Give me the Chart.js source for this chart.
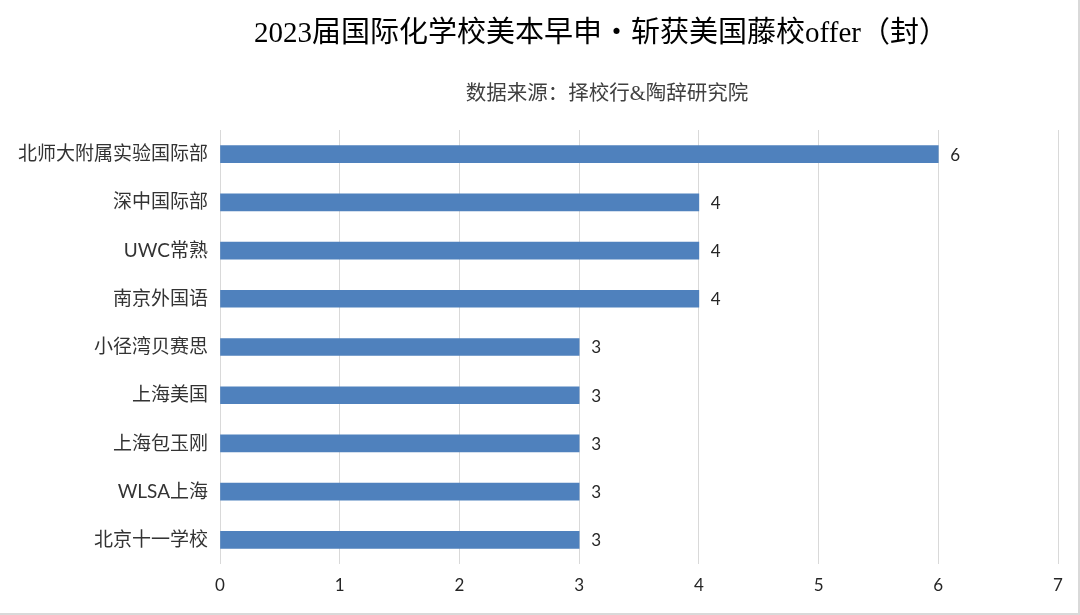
<!DOCTYPE html>
<html>
<head>
<meta charset="utf-8">
<script src="https://cdn.jsdelivr.net/npm/chart.js@4/dist/chart.umd.min.js"></script>
<style>
html,body{margin:0;padding:0;background:#fff;}
#wrap{width:1080px;height:615px;position:relative;box-sizing:border-box;border-right:2px solid #d9d9d9;border-bottom:2px solid #d9d9d9;}
canvas{display:block;}
</style>
</head>
<body>
<div id="wrap"><canvas id="c" width="1078" height="613"></canvas></div>
<script>
const categories = ["北师大附属实验国际部","深中国际部","UWC常熟","南京外国语","小径湾贝赛思","上海美国","上海包玉刚","WLSA上海","北京十一学校"];
const offers = [6,4,4,4,3,3,3,3,3];
const xTicks = [0,1,2,3,4,5,6,7];
const titleText = "2023届国际化学校美本早申・斩获美国藤校offer（封）";
const subtitleText = "数据来源：择校行&陶辞研究院";

const labelFont = "Lato, 'Noto Sans CJK SC', sans-serif";
const serifFont = "'Liberation Serif', 'Noto Sans CJK SC', serif";

const headings = {
  id: 'headings',
  afterDraw(chart) {
    const ctx = chart.ctx;
    ctx.save();
    ctx.textAlign = "center";
    ctx.textBaseline = "middle";
    ctx.fillStyle = "#000";
    ctx.font = "29px " + serifFont;
    ctx.fillText(titleText, 601, 34);
    ctx.fillStyle = "#404040";
    ctx.font = "20.5px " + serifFont;
    ctx.fillText(subtitleText, 607, 95);
    ctx.restore();
  }
};

const valueLabels = {
  id: 'valueLabels',
  afterDatasetsDraw(chart) {
    const ctx = chart.ctx;
    const meta = chart.getDatasetMeta(0);
    ctx.save();
    ctx.font = "17px " + labelFont;
    ctx.fillStyle = "#262626";
    ctx.textAlign = "left";
    ctx.textBaseline = "middle";
    meta.data.forEach((bar, i) => {
      ctx.fillText(String(offers[i]), bar.x + 12, bar.y + 1);
    });
    ctx.restore();
  }
};

new Chart(document.getElementById('c'), {
  type: 'bar',
  data: {
    labels: categories,
    datasets: [{
      data: offers,
      backgroundColor: '#4f81bd',
      borderWidth: 0,
      barThickness: 17
    }]
  },
  options: {
    indexAxis: 'y',
    responsive: false,
    animation: false,
    layout: { padding: { left: 0, right: 20, top: 130, bottom: 0 } },
    plugins: {
      legend: { display: false },
      tooltip: { enabled: false },
      title: { display: false },
      subtitle: { display: false }
    },
    scales: {
      x: {
        min: 0, max: 7,
        afterBuildTicks: s => { s.ticks = xTicks.map(v => ({ value: v })); },
        afterFit: s => { s.height = 49; },
        grid: { color: '#d9d9d9', drawTicks: false, lineWidth: 1 },
        border: { display: false },
        ticks: { padding: 11, color: '#262626', font: { family: labelFont, size: 17 } }
      },
      y: {
        afterFit: s => { s.width = 220; },
        grid: { display: false, drawTicks: false },
        border: { display: false },
        ticks: { padding: 12, color: '#333333', font: { family: labelFont, size: 19 } }
      }
    }
  },
  plugins: [valueLabels, headings]
});
</script>
</body>
</html>
